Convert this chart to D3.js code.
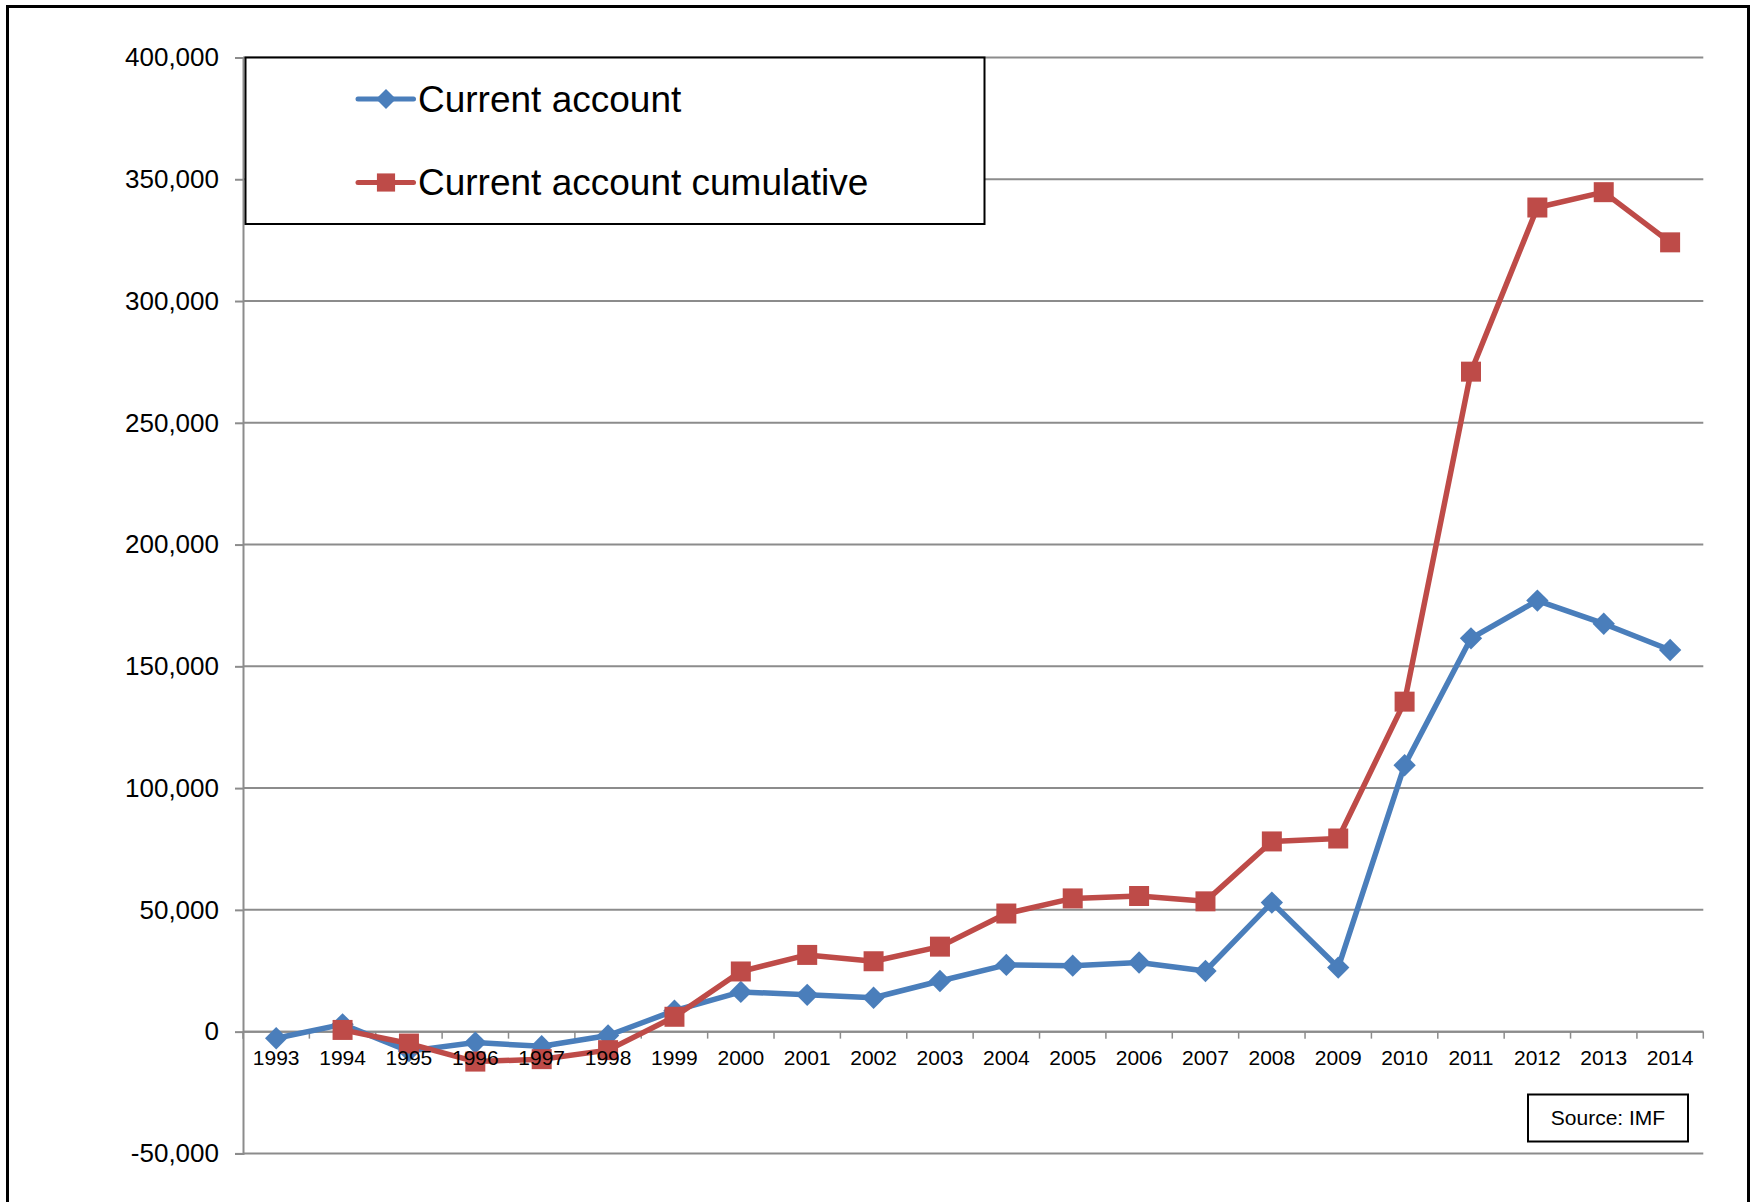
<!DOCTYPE html>
<html>
<head>
<meta charset="utf-8">
<script src="https://cdn.jsdelivr.net/npm/d3@7"></script>
<style>
  html, body { margin: 0; padding: 0; background: #fff; }
  svg { display: block; font-family: "Liberation Sans", Arial, sans-serif; }
</style>
</head>
<body>
<svg id="chart" width="1756" height="1202"></svg>
<script>
const years = ["1993","1994","1995","1996","1997","1998","1999","2000","2001","2002","2003",
               "2004","2005","2006","2007","2008","2009","2010","2011","2012","2013","2014"];
const currentAccount = [-2700, 3000, -8000, -4500, -6000, -1600, 8600, 16300, 15100, 13900, 20800,
                        27400, 27100, 28400, 24900, 53000, 26300, 109400, 161500, 177000, 167500, 156700];
const currentAccountCumulative = [null, 700, -4900, -12300, -11300, -7600, 6100, 24700, 31500, 28900, 34900,
                        48500, 54700, 55700, 53500, 78100, 79300, 135500, 271000, 338400, 344700, 324100];
const yTickValues = [-50000, 0, 50000, 100000, 150000, 200000, 250000, 300000, 350000, 400000];
const yTickLabels = ["-50,000", "0", "50,000", "100,000", "150,000", "200,000", "250,000", "300,000", "350,000", "400,000"];
const seriesNames = ["Current account", "Current account cumulative"];
const sourceText = "Source: IMF";

const svg = d3.select("#chart");
const plot = { left: 243, right: 1703.3, top: 57.5, bottom: 1153.4 };
const blue = "#4A7EBB", red = "#BE4B48", grid = "#8C8C8C";

// outer frame
svg.append("rect").attr("x", 7.5).attr("y", 6.5).attr("width", 1741).attr("height", 1220)
  .attr("fill", "none").attr("stroke", "#000").attr("stroke-width", 3);

const x = d3.scalePoint().domain(years).range([plot.left, plot.right]).padding(0.5);
const y = d3.scaleLinear().domain([-50000, 400000]).range([plot.bottom, plot.top]);
const step = x.step();

// gridlines
svg.append("g").selectAll("line").data(yTickValues).join("line")
  .attr("x1", plot.left).attr("x2", plot.right)
  .attr("y1", d => y(d)).attr("y2", d => y(d))
  .attr("stroke", grid).attr("stroke-width", 2);

// y axis
const yAxis = d3.axisLeft(y).tickValues(yTickValues).tickSize(8).tickPadding(16)
  .tickFormat((d, i) => yTickLabels[i]);
const gy = svg.append("g").attr("transform", `translate(${plot.left},0)`).call(yAxis);
gy.select(".domain").attr("stroke", grid).attr("stroke-width", 2);
gy.selectAll(".tick line").attr("stroke", grid).attr("stroke-width", 2);
gy.selectAll(".tick text").attr("font-size", 26).attr("fill", "#000")
  .attr("font-family", "Liberation Sans, Arial, sans-serif");

// x axis (at y = 0)
const boundaries = d3.range(years.length + 1).map(i => plot.left + i * step);
const gx = svg.append("g");
gx.append("line").attr("x1", plot.left).attr("x2", plot.right)
  .attr("y1", y(0)).attr("y2", y(0)).attr("stroke", grid).attr("stroke-width", 2);
gx.selectAll("line.tk").data(boundaries).join("line").attr("class", "tk")
  .attr("x1", d => d).attr("x2", d => d).attr("y1", y(0)).attr("y2", y(0) + 7)
  .attr("stroke", grid).attr("stroke-width", 1.5);

// series
const line = d3.line().defined(d => d[1] !== null).x(d => x(d[0])).y(d => y(d[1]));
const diamond = d3.symbol(d3.symbolSquare, 250);
const square = d3.symbol(d3.symbolSquare, 400);

function drawSeries(vals, color, symbolGen, rotate) {
  const data = years.map((yr, i) => [yr, vals[i]]);
  const g = svg.append("g");
  g.append("path").datum(data).attr("d", line).attr("fill", "none")
    .attr("stroke", color).attr("stroke-width", 5.5).attr("stroke-linejoin", "round");
  g.selectAll("path.m").data(data.filter(d => d[1] !== null)).join("path").attr("class", "m")
    .attr("d", symbolGen)
    .attr("transform", d => `translate(${x(d[0])},${y(d[1])}) rotate(${rotate})`)
    .attr("fill", color);
}
drawSeries(currentAccount, blue, diamond, 45);
drawSeries(currentAccountCumulative, red, square, 0);

// x labels drawn after series (as in reference they overlap lines)
svg.append("g").selectAll("text").data(years).join("text")
  .attr("x", d => x(d)).attr("y", 1065).attr("text-anchor", "middle")
  .attr("font-size", 21).attr("fill", "#000").text(d => d);

// legend
const lg = svg.append("g");
lg.append("rect").attr("x", 245.5).attr("y", 57.5).attr("width", 739).attr("height", 166.5)
  .attr("fill", "#fff").attr("stroke", "#000").attr("stroke-width", 2);
const legendItems = [
  { name: seriesNames[0], color: blue, sym: d3.symbol(d3.symbolSquare, 200), rot: 45, y: 99 },
  { name: seriesNames[1], color: red, sym: d3.symbol(d3.symbolSquare, 330), rot: 0, y: 182.5 }
];
legendItems.forEach(it => {
  lg.append("line").attr("x1", 358).attr("x2", 413.5).attr("y1", it.y).attr("y2", it.y)
    .attr("stroke", it.color).attr("stroke-width", 5).attr("stroke-linecap", "round");
  lg.append("path").attr("d", it.sym()).attr("fill", it.color)
    .attr("transform", `translate(386,${it.y}) rotate(${it.rot})`);
  lg.append("text").attr("x", 418).attr("y", it.y).attr("dy", "0.35em")
    .attr("font-size", 37).attr("fill", "#000").text(it.name);
});

// source box
svg.append("rect").attr("x", 1528).attr("y", 1094.5).attr("width", 160).attr("height", 47)
  .attr("fill", "#fff").attr("stroke", "#000").attr("stroke-width", 2);
svg.append("text").attr("x", 1608).attr("y", 1118).attr("dy", "0.35em").attr("text-anchor", "middle")
  .attr("font-size", 21).attr("fill", "#000").text(sourceText);
</script>
</body>
</html>
